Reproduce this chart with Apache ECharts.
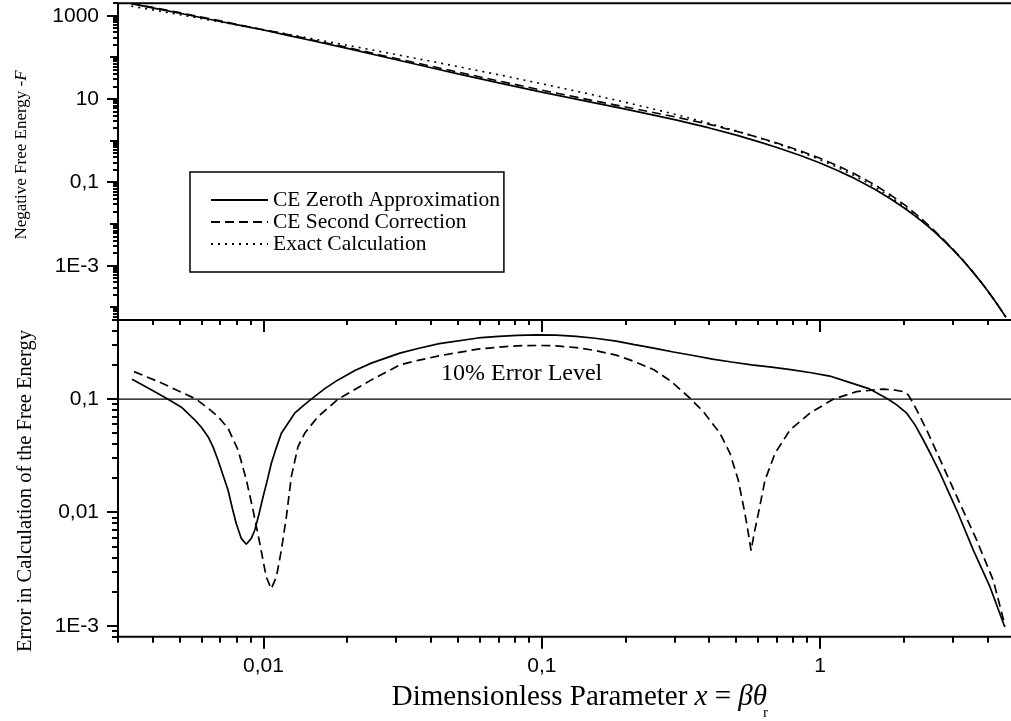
<!DOCTYPE html>
<html>
<head>
<meta charset="utf-8">
<script src="https://cdn.jsdelivr.net/npm/echarts@6/dist/echarts.min.js"></script>
<style>
html,body{margin:0;padding:0;background:#fff;}
#chart{width:1011px;height:721px;}
</style>
</head>
<body>
<div id="chart"></div>
<script>
// ---------------- data ----------------
const legendNames = ['CE Zeroth Approximation', 'CE Second Correction', 'Exact Calculation'];

// top panel: negative free energy -F
const topX      = [0.00335, 0.0042, 0.005, 0.007, 0.0085, 0.01, 0.012, 0.015, 0.02, 0.03, 0.04, 0.05, 0.07, 0.1, 0.15, 0.2, 0.3, 0.4, 0.5, 0.6, 0.7, 0.85, 1.0, 1.15, 1.3, 1.45, 1.6, 1.8, 2.0, 2.15, 2.3, 2.45, 2.6, 2.8, 3.0, 3.25, 3.5, 3.75, 4.0, 4.3, 4.65];
const topExact  = [1701, 1303, 1060, 709, 561.2, 460.9, 368.9, 280.3, 195.9, 116.9, 80.81, 60.25, 38.32, 23.36, 12.98, 8.38, 4.35, 2.629, 1.726, 1.1927, 0.853, 0.5373, 0.3497, 0.2320, 0.1561, 0.1059, 0.0723, 0.04383, 0.02675, 0.01855, 0.01293, 0.009017, 0.00632, 0.003939, 0.00247, 0.001385, 0.000781, 0.0004424, 0.0002515, 0.0001281, 0.0000590];
const topZeroth = [1956, 1446, 1148, 727, 564, 454.4, 347.9, 251.7, 164.6, 87.7, 56.57, 40.4, 24.6, 14.76, 8.44, 5.74, 3.22, 2.030, 1.364, 0.9565, 0.691, 0.4422, 0.292, 0.1965, 0.1342, 0.0923, 0.0642, 0.03958, 0.02466, 0.01738, 0.01234, 0.008692, 0.00616, 0.003864, 0.00244, 0.001373, 0.000777, 0.0004409, 0.000251, 0.0001279, 0.0000589];
const topSecond = [1995, 1485, 1187, 756.5, 574.7, 462.6, 366.0, 262.9, 173.4, 93.75, 61.82, 44.47, 27.21, 16.40, 9.45, 6.45, 3.758, 2.471, 1.688, 1.2044, 0.884, 0.5722, 0.379, 0.2557, 0.1739, 0.1185, 0.0811, 0.04913, 0.02985, 0.02029, 0.01384, 0.009468, 0.00655, 0.004034, 0.00251, 0.0014, 0.000786, 0.0004446, 0.000252, 0.0001284, 0.0000591];

// bottom panel: relative error
const errZerothX = [0.00337, 0.00395, 0.00454, 0.00507, 0.00566, 0.00598, 0.00632, 0.00658, 0.00686, 0.00715, 0.00746, 0.00773, 0.00798, 0.00832, 0.00867, 0.00904, 0.00930, 0.00961, 0.00996, 0.01032, 0.01067, 0.0111, 0.01159, 0.01225, 0.01294, 0.01387, 0.01485, 0.0166, 0.01853, 0.0213, 0.0244, 0.0309, 0.0359, 0.0428, 0.0590, 0.0700, 0.0816, 0.0960, 0.1127, 0.133, 0.1557, 0.185, 0.2153, 0.255, 0.2972, 0.35, 0.4106, 0.48, 0.5675, 0.67, 0.7835, 0.93, 1.083, 1.25, 1.496, 1.758, 1.885, 2.048, 2.193, 2.35, 2.517, 2.698, 3.097, 3.556, 4.08, 4.61];
const errZeroth  = [0.150, 0.121, 0.100, 0.085, 0.0656, 0.0565, 0.0467, 0.0381, 0.0290, 0.0214, 0.0157, 0.01084, 0.0080, 0.0059, 0.00524, 0.0059, 0.00697, 0.00946, 0.0137, 0.0193, 0.0272, 0.0368, 0.0500, 0.0614, 0.0752, 0.0873, 0.100, 0.124, 0.148, 0.179, 0.208, 0.255, 0.280, 0.309, 0.347, 0.358, 0.366, 0.369, 0.368, 0.358, 0.345, 0.325, 0.303, 0.281, 0.261, 0.243, 0.226, 0.213, 0.201, 0.192, 0.182, 0.171, 0.160, 0.143, 0.124, 0.100, 0.0891, 0.0752, 0.0593, 0.0436, 0.0315, 0.0222, 0.0105, 0.00463, 0.00220, 0.000973];

const errSecondX = [0.003425, 0.0043, 0.00573, 0.00632, 0.00686, 0.00746, 0.0081, 0.00868, 0.00917, 0.0097, 0.01023, 0.01066, 0.01112, 0.01159, 0.01208, 0.01259, 0.0133, 0.01406, 0.0157, 0.01853, 0.02067, 0.0244, 0.0309, 0.0359, 0.0428, 0.0590, 0.0700, 0.0816, 0.0970, 0.1127, 0.133, 0.1557, 0.185, 0.2153, 0.253, 0.2900, 0.3408, 0.3804, 0.4367, 0.4745, 0.508, 0.537, 0.552, 0.565, 0.580, 0.600, 0.634, 0.689, 0.780, 0.919, 1.115, 1.353, 1.687, 1.832, 1.99, 2.074, 2.16, 2.254, 2.415, 2.77, 3.18, 3.654, 4.19, 4.62];
const errSecond  = [0.175, 0.139, 0.100, 0.0832, 0.0702, 0.0553, 0.0356, 0.0193, 0.0105, 0.00532, 0.00269, 0.00212, 0.00269, 0.00464, 0.00914, 0.0207, 0.0381, 0.0500, 0.0702, 0.100, 0.1167, 0.148, 0.201, 0.220, 0.2415, 0.277, 0.288, 0.296, 0.298, 0.296, 0.285, 0.269, 0.245, 0.215, 0.1816, 0.145, 0.102, 0.0777, 0.0500, 0.0333, 0.0193, 0.0098, 0.0066, 0.0046, 0.0066, 0.0098, 0.0193, 0.0333, 0.0535, 0.0752, 0.100, 0.1167, 0.1226, 0.121, 0.1167, 0.109, 0.0922, 0.0752, 0.0535, 0.0254, 0.0120, 0.00569, 0.00252, 0.00100];

const errLevelX = [0.003, 5];
const errLevel  = [0.1, 0.1];
const errLevelText = '10% Error Level';

// tick labels
const xTickValues = [0.01, 0.1, 1];
const xTickLabels = ['0,01', '0,1', '1'];
const topYTickValues = [1000, 10, 0.1, 0.001];
const topYTickLabels = ['1000', '10', '0,1', '1E-3'];
const botYTickValues = [0.1, 0.01, 0.001];
const botYTickLabels = ['0,1', '0,01', '1E-3'];

const topYTitle = 'Negative Free Energy -';
const topYTitleItalic = 'F';
const botYTitle = 'Error in Calculation of the Free Energy';

// ---------------- layout ----------------
const X_MIN = 0.003, X_MAX = 5;
const TOP_MIN = 5e-5, TOP_MAX = 2000;
const BOT_MIN = 8e-4, BOT_MAX = 0.5;
const GL = 118, GW = 896.6;

const zip = (xs, ys) => xs.map((x, i) => [x, ys[i]]);

function logTicks(min, max) {
  const out = [];
  for (let k = Math.floor(Math.log10(min)) - 1; k <= Math.ceil(Math.log10(max)); k++) {
    for (let m = 1; m <= 9; m++) {
      const v = m * Math.pow(10, k);
      if (v >= min * 0.9999 && v <= max * 1.0001) out.push({ v: v, m: m });
    }
  }
  return out;
}
function isIn(v, list) { return list.some(t => Math.abs(Math.log10(v) - Math.log10(t)) < 1e-6); }

const LABEL_FONT = { fontSize: 21, fontFamily: 'Liberation Sans' };

function decorSeries(gi, items, refX, refY) {
  return {
    type: 'custom', coordinateSystem: 'cartesian2d', xAxisIndex: gi, yAxisIndex: gi,
    silent: true, z: 20, clip: false, animation: false,
    data: items.map((it, i) => [it.axis === 'x' ? it.v : refX, it.axis === 'y' ? it.v : refY, i]),
    renderItem: function (params, api) {
      const it = items[api.value(2)];
      const cs = params.coordSys;
      const p = api.coord([api.value(0), api.value(1)]);
      if (it.kind === 'tick') {
        let x1, y1, x2, y2;
        if (it.axis === 'y') {
          const y = Math.round(p[1]);
          x1 = cs.x - it.len; x2 = cs.x; y1 = y2 = y;
        } else {
          const x = Math.round(p[0]);
          x1 = x2 = x;
          if (it.edge === 'bottom') { y1 = cs.y + cs.height; y2 = y1 + it.len; }
          else { y1 = cs.y; y2 = cs.y + it.len; }
        }
        return { type: 'line', shape: { x1: x1, y1: y1, x2: x2, y2: y2 }, style: { stroke: '#000', lineWidth: 2 } };
      } else {
        let x, y, align;
        if (it.axis === 'y') { x = cs.x - 19; y = p[1]; align = 'right'; }
        else { x = p[0]; y = cs.y + cs.height + 30; align = 'center'; }
        return {
          type: 'text', x: x, y: y,
          style: {
            text: it.text, fill: '#000', fontSize: LABEL_FONT.fontSize, fontFamily: LABEL_FONT.fontFamily,
            align: align, verticalAlign: 'middle', textAlign: align, textVerticalAlign: 'middle'
          }
        };
      }
    }
  };
}

// top grid decorations
const topItems = [];
logTicks(TOP_MIN, TOP_MAX).forEach(t => {
  const major = isIn(t.v, topYTickValues);
  topItems.push({ kind: 'tick', axis: 'y', v: t.v, len: major ? 11 : (t.m === 1 ? 8 : 5) });
});
topYTickValues.forEach((v, i) => topItems.push({ kind: 'label', axis: 'y', v: v, text: topYTickLabels[i] }));

// bottom grid decorations
const botItems = [];
logTicks(BOT_MIN, BOT_MAX).forEach(t => {
  const major = isIn(t.v, botYTickValues);
  botItems.push({ kind: 'tick', axis: 'y', v: t.v, len: major ? 11 : 6 });
});
botYTickValues.forEach((v, i) => botItems.push({ kind: 'label', axis: 'y', v: v, text: botYTickLabels[i] }));
logTicks(X_MIN, X_MAX).forEach(t => {
  const major = isIn(t.v, xTickValues);
  botItems.push({ kind: 'tick', axis: 'x', v: t.v, edge: 'bottom', len: major ? 12 : 6 });
  botItems.push({ kind: 'tick', axis: 'x', v: t.v, edge: 'top', len: major ? 12 : 5 });
});
xTickValues.forEach((v, i) => botItems.push({ kind: 'label', axis: 'x', v: v, text: xTickLabels[i] }));

const hiddenAxis = {
  axisLine: { show: false }, axisTick: { show: false }, axisLabel: { show: false },
  splitLine: { show: false }, minorTick: { show: false }, minorSplitLine: { show: false }
};

const lineBase = { type: 'line', symbol: 'none', showSymbol: false, smooth: false, animation: false, silent: true };

const option = {
  backgroundColor: '#fff',
  animation: false,
  grid: [
    { left: GL, top: 3.2, width: GW, height: 316.8, show: true, borderColor: '#000', borderWidth: 2, backgroundColor: 'transparent', containLabel: false, outerBoundsMode: 'none' },
    { left: GL, top: 320, width: GW, height: 316.7, show: true, borderColor: '#000', borderWidth: 2, backgroundColor: 'transparent', containLabel: false, outerBoundsMode: 'none' }
  ],
  xAxis: [
    Object.assign({ gridIndex: 0, type: 'log', logBase: 10, min: X_MIN, max: X_MAX }, hiddenAxis),
    Object.assign({ gridIndex: 1, type: 'log', logBase: 10, min: X_MIN, max: X_MAX }, hiddenAxis)
  ],
  yAxis: [
    Object.assign({ gridIndex: 0, type: 'log', logBase: 10, min: TOP_MIN, max: TOP_MAX }, hiddenAxis),
    Object.assign({ gridIndex: 1, type: 'log', logBase: 10, min: BOT_MIN, max: BOT_MAX }, hiddenAxis)
  ],
  legend: {
    data: legendNames,
    orient: 'vertical', left: 190, top: 172,
    padding: [17, 4, 17, 20], itemWidth: 57, itemHeight: 12, itemGap: 0,
    borderColor: '#000', borderWidth: 1.5, backgroundColor: '#fff',
    selectedMode: false, z: 30,
    itemStyle: { color: 'rgba(0,0,0,0)', borderColor: 'rgba(0,0,0,0)', borderWidth: 0 },
    textStyle: { fontFamily: 'Liberation Serif', fontSize: 21.5, color: '#000', lineHeight: 22 }
  },
  graphic: [
    {
      type: 'text', x: 22, y: 155, rotation: Math.PI / 2, silent: true,
      style: {
        text: '{n|' + topYTitle + '}{i|' + topYTitleItalic + '}',
        rich: {
          n: { fontSize: 17, fontFamily: 'Liberation Serif', fill: '#000' },
          i: { fontSize: 17, fontFamily: 'Liberation Serif', fontStyle: 'italic', fill: '#000' }
        },
        fill: '#000', align: 'center', verticalAlign: 'middle'
      }
    },
    {
      type: 'text', x: 26, y: 491, rotation: Math.PI / 2, silent: true,
      style: { text: botYTitle, fontSize: 20.5, fontFamily: 'Liberation Serif', fill: '#000', align: 'center', verticalAlign: 'middle' }
    },
    {
      type: 'text', x: 767, y: 697, silent: true,
      style: {
        text: '{a|Dimensionless Parameter }{i|x}{a| = }{i|βθ}',
        rich: {
          a: { fontSize: 29, fontFamily: 'Liberation Serif', fill: '#000' },
          i: { fontSize: 29, fontFamily: 'Liberation Serif', fontStyle: 'italic', fill: '#000' }
        },
        fill: '#000', align: 'right', verticalAlign: 'middle'
      }
    },
    {
      type: 'text', x: 763, y: 713, silent: true,
      style: { text: 'r', fontSize: 15, fontFamily: 'Liberation Serif', fill: '#000', align: 'left', verticalAlign: 'middle' }
    },
    {
      type: 'text', x: 441, y: 374, silent: true, z: 50,
      style: { text: errLevelText, fontSize: 24, fontFamily: 'Liberation Serif', fill: '#000', align: 'left', verticalAlign: 'middle' }
    }
  ],
  series: [
    Object.assign({}, lineBase, { name: legendNames[2], xAxisIndex: 0, yAxisIndex: 0, data: zip(topX, topExact),
      lineStyle: { color: '#000', width: 1.6, type: [2, 5] }, itemStyle: { color: '#000' } }),
    Object.assign({}, lineBase, { name: legendNames[1], xAxisIndex: 0, yAxisIndex: 0, data: zip(topX, topSecond),
      lineStyle: { color: '#000', width: 1.6, type: [9, 5] }, itemStyle: { color: '#000' } }),
    Object.assign({}, lineBase, { name: legendNames[0], xAxisIndex: 0, yAxisIndex: 0, data: zip(topX, topZeroth),
      lineStyle: { color: '#000', width: 1.7, type: 'solid' }, itemStyle: { color: '#000' } }),
    Object.assign({}, lineBase, { name: 'error-level', xAxisIndex: 1, yAxisIndex: 1, data: zip(errLevelX, errLevel),
      lineStyle: { color: '#000', width: 1.3, type: 'solid' } }),
    Object.assign({}, lineBase, { name: 'error-second', xAxisIndex: 1, yAxisIndex: 1, data: zip(errSecondX, errSecond),
      lineStyle: { color: '#000', width: 1.7, type: [9, 5] } }),
    Object.assign({}, lineBase, { name: 'error-zeroth', xAxisIndex: 1, yAxisIndex: 1, data: zip(errZerothX, errZeroth),
      lineStyle: { color: '#000', width: 1.7, type: 'solid' } }),
    decorSeries(0, topItems, X_MIN, 1),
    decorSeries(1, botItems, X_MIN, 0.1)
  ]
};

const chart = echarts.init(document.getElementById('chart'), null, { renderer: 'canvas' });
chart.setOption(option);
</script>
</body>
</html>
